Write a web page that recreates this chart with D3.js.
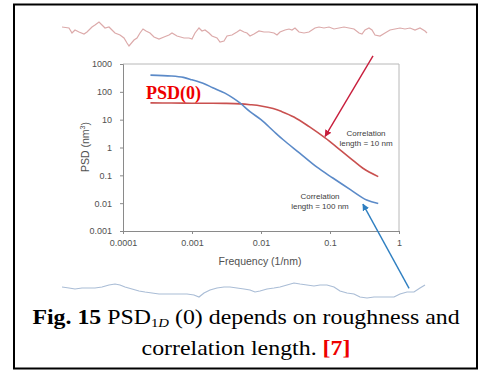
<!DOCTYPE html>
<html>
<head>
<meta charset="utf-8">
<script src="https://cdn.jsdelivr.net/npm/d3@7"></script>
<style>
  body { margin: 0; background: #fff; }
  svg { display: block; }
</style>
</head>
<body>
<svg id="chart" width="480" height="370"></svg>
<script>
// PSD curves, [frequency (1/nm), PSD (nm^3)]
const corr10 = [
  [0.00025, 40], [0.0005, 39.5], [0.001, 39], [0.002, 39], [0.003, 38.5],
  [0.005, 37], [0.007, 34.5], [0.01, 31], [0.015, 25], [0.02, 19.5],
  [0.03, 12.5], [0.05, 5.6], [0.085, 2.2], [0.13, 0.95], [0.2, 0.4],
  [0.3, 0.18], [0.5, 0.09]
];
const corr100 = [
  [0.00025, 400], [0.0005, 370], [0.00075, 330], [0.001, 270], [0.0015, 195],
  [0.002, 140], [0.003, 90], [0.004, 58], [0.005, 39], [0.007, 19],
  [0.01, 10], [0.015, 4], [0.021, 1.9], [0.036, 0.64], [0.064, 0.2],
  [0.11, 0.08], [0.2, 0.03], [0.34, 0.013], [0.5, 0.0098]
];
const xTicks = [0.0001, 0.001, 0.01, 0.1, 1];
const xTickLabels = ['0.0001', '0.001', '0.01', '0.1', '1'];
const yTicks = [0.001, 0.01, 0.1, 1, 10, 100, 1000];
const yTickLabels = ['0.001', '0.01', '0.1', '1', '10', '100', '1000'];

// roughness profiles, [position, height]
const profile10 = [
  [0, 5], [7, 4], [10, -1], [13, 2], [17, 0], [22, -2], [25, 0], [30, 5], [33, 7],
  [37, 10], [40, 7], [43, 4], [47, 5], [50, 2], [53, -1], [58, -3], [62, -6],
  [65, -11], [67, -14], [72, -8], [75, -6], [78, -1], [81, 3], [84, 1], [88, -1],
  [92, -5], [97, -7], [102, -5], [107, -3], [110, -1], [115, -4], [122, -6],
  [127, -6], [130, -7], [133, -1], [137, 4], [140, 1], [143, 2], [147, -1],
  [150, -4], [155, -6], [158, -10], [162, -9], [165, -4], [170, -3], [175, 0],
  [178, 2], [182, 0], [185, -1], [188, -4], [192, -2], [197, 1], [202, 0],
  [207, 0], [212, -1], [215, -3], [218, 0], [223, 2], [227, 3], [230, 2],
  [233, 4], [237, 0], [242, -1], [247, 0], [253, 4], [257, 5], [262, 4],
  [267, 5], [272, 3], [277, 4], [282, 5], [287, 4], [292, 3], [297, -1],
  [300, -2], [303, 2], [307, 4], [310, 2], [313, -3], [318, -4], [323, -1],
  [328, 2], [333, 3], [338, 4], [343, 3], [348, 4], [353, 2], [358, 4],
  [363, 1], [365, -1]
];
const profile100 = [
  [0, 3], [7, 2], [13, 1], [20, 2], [27, 2], [33, 2], [40, 3], [47, 5], [53, 6],
  [58, 5], [63, 3], [70, 1], [77, -1], [83, -2], [90, -3], [97, -4], [103, -4],
  [110, -4], [117, -4], [125, -4], [132, -5], [137, -7], [142, -3], [148, 0],
  [155, 2], [162, 3], [168, 3], [175, 2], [182, 1], [188, 0], [193, -2],
  [198, -1], [205, 1], [212, 2], [218, 3], [225, 5], [232, 7], [238, 6],
  [245, 5], [252, 4], [258, 5], [265, 5], [272, 3], [278, -1], [285, -3],
  [292, -4], [298, -7], [305, -8], [312, -7], [318, -7], [325, -7], [332, -7],
  [338, -4], [345, -2], [352, -2], [358, 2], [363, 5]
];

const svg = d3.select('#chart');

// outer frame
svg.append('rect')
  .attr('x', 14).attr('y', 4.5)
  .attr('width', 463).attr('height', 364)
  .attr('fill', 'none')
  .attr('stroke', '#000')
  .attr('stroke-width', 2);

// profiles
const xProf = d3.scaleLinear().domain([0, 365]).range([62, 427]);
const yTop = d3.scaleLinear().domain([-15, 15]).range([47, 17]);
const yBottom = d3.scaleLinear().domain([-15, 15]).range([305, 275]);

svg.append('path')
  .datum(profile10)
  .attr('fill', 'none')
  .attr('stroke', '#dcaaaa')
  .attr('stroke-width', 1.2)
  .attr('d', d3.line().x(d => xProf(d[0])).y(d => yTop(d[1])));

svg.append('path')
  .datum(profile100)
  .attr('fill', 'none')
  .attr('stroke', '#aabdd6')
  .attr('stroke-width', 1.2)
  .attr('d', d3.line().x(d => xProf(d[0])).y(d => yBottom(d[1])));

// plot
const x = d3.scaleLog().domain([0.0001, 1]).range([123, 399]);
const y = d3.scaleLog().domain([0.001, 1000]).range([231, 64]);

// plot frame top / right
svg.append('path')
  .attr('d', `M${x(0.0001)},${y(1000)}H${x(1)}V${y(0.001)}`)
  .attr('fill', 'none')
  .attr('stroke', '#b8b8b8')
  .attr('stroke-width', 1);

const xAxis = svg.append('g')
  .attr('transform', `translate(0,${y(0.001)})`)
  .call(d3.axisBottom(x).tickValues(xTicks)
    .tickFormat((d, i) => xTickLabels[i]).tickSizeOuter(0).tickSize(3).tickPadding(6));

const yAxis = svg.append('g')
  .attr('transform', `translate(${x(0.0001)},0)`)
  .call(d3.axisLeft(y).tickValues(yTicks)
    .tickFormat((d, i) => yTickLabels[i]).tickSizeOuter(0).tickSize(3).tickPadding(8));

[xAxis, yAxis].forEach(g => {
  g.select('.domain').attr('stroke', '#8a8a8a');
  g.selectAll('.tick line').attr('stroke', '#8a8a8a');
  g.selectAll('.tick text')
    .attr('fill', '#505050')
    .style('font-family', '"Liberation Sans", Arial, sans-serif')
    .style('font-size', '9px');
});

svg.append('text')
  .attr('x', 260).attr('y', 265)
  .attr('text-anchor', 'middle')
  .attr('fill', '#505050')
  .style('font-family', '"Liberation Sans", Arial, sans-serif')
  .style('font-size', '10.5px')
  .text('Frequency (1/nm)');

const yLab = svg.append('text')
  .attr('transform', 'translate(89,147) rotate(-90)')
  .attr('text-anchor', 'middle')
  .attr('fill', '#505050')
  .style('font-family', '"Liberation Sans", Arial, sans-serif')
  .style('font-size', '10.5px');
yLab.append('tspan').text('PSD (nm');
yLab.append('tspan').attr('dy', -4).style('font-size', '7px').text('3');
yLab.append('tspan').attr('dy', 4).text(')');

// curves
const line = d3.line()
  .x(d => x(d[0]))
  .y(d => y(d[1]))
  .curve(d3.curveCatmullRom.alpha(0.5));

svg.append('path')
  .datum(corr10)
  .attr('fill', 'none')
  .attr('stroke', '#c9504f')
  .attr('stroke-width', 1.6)
  .attr('d', line);

svg.append('path')
  .datum(corr100)
  .attr('fill', 'none')
  .attr('stroke', '#5b8ac8')
  .attr('stroke-width', 1.6)
  .attr('d', line);

// curve labels
function label(cx, cy, lines) {
  const t = svg.append('text')
    .attr('text-anchor', 'middle')
    .attr('fill', '#404040')
    .style('font-family', '"Liberation Sans", Arial, sans-serif')
    .style('font-size', '8px');
  lines.forEach((s, i) => {
    t.append('tspan').attr('x', cx).attr('y', cy + i * 10).text(s);
  });
}
label(366, 136, ['Correlation', 'length = 10 nm']);
label(320, 199, ['Correlation', 'length = 100 nm']);

svg.append('text')
  .attr('x', 146).attr('y', 99)
  .attr('fill', '#ee0000')
  .style('font-family', '"Liberation Serif", "Times New Roman", serif')
  .style('font-weight', 'bold')
  .style('font-size', '18px')
  .text('PSD(0)');

// arrows
const defs = svg.append('defs');
[['arrRed', '#c81e3c'], ['arrBlue', '#2f7fc1']].forEach(([id, c]) => {
  defs.append('marker')
    .attr('id', id)
    .attr('viewBox', '0 0 10 10')
    .attr('refX', 9).attr('refY', 5)
    .attr('markerWidth', 5).attr('markerHeight', 5)
    .attr('orient', 'auto')
    .append('path')
    .attr('d', 'M0,0L10,5L0,10z')
    .attr('fill', c);
});

svg.append('line')
  .attr('x1', x(0.42)).attr('y1', y(1950))
  .attr('x2', x(0.085)).attr('y2', y(2.5))
  .attr('stroke', '#c81e3c')
  .attr('stroke-width', 1.4)
  .attr('marker-end', 'url(#arrRed)');

svg.append('line')
  .attr('x1', x(1.4)).attr('y1', y(0.0000087))
  .attr('x2', x(0.3)).attr('y2', y(0.0092))
  .attr('stroke', '#2f7fc1')
  .attr('stroke-width', 1.4)
  .attr('marker-end', 'url(#arrBlue)');

// caption, stretched horizontally like the source figure
function caption(cx, baseline, width, build) {
  const g = svg.append('g');
  const t = g.append('text')
    .attr('x', 0).attr('y', 0)
    .attr('text-anchor', 'middle')
    .attr('fill', '#000')
    .style('font-family', '"Liberation Serif", "Times New Roman", serif')
    .style('font-size', '21px');
  build(t);
  const w = t.node().getBBox().width;
  g.attr('transform', `translate(${cx},${baseline}) scale(${width / w},1)`);
}

caption(246, 324, 428, t => {
  t.append('tspan').style('font-weight', 'bold').text('Fig. 15');
  t.append('tspan').text(' PSD');
  t.append('tspan').attr('dy', 3).style('font-size', '13px').text('1');
  t.append('tspan').style('font-size', '13px').style('font-style', 'italic').text('D');
  t.append('tspan').attr('dy', -3).text(' (0) depends on roughness and');
});

caption(246, 355, 209, t => {
  t.append('tspan').text('correlation length. ');
  t.append('tspan').attr('fill', '#ee0000').style('font-weight', 'bold').text('[7]');
});
</script>
</body>
</html>
